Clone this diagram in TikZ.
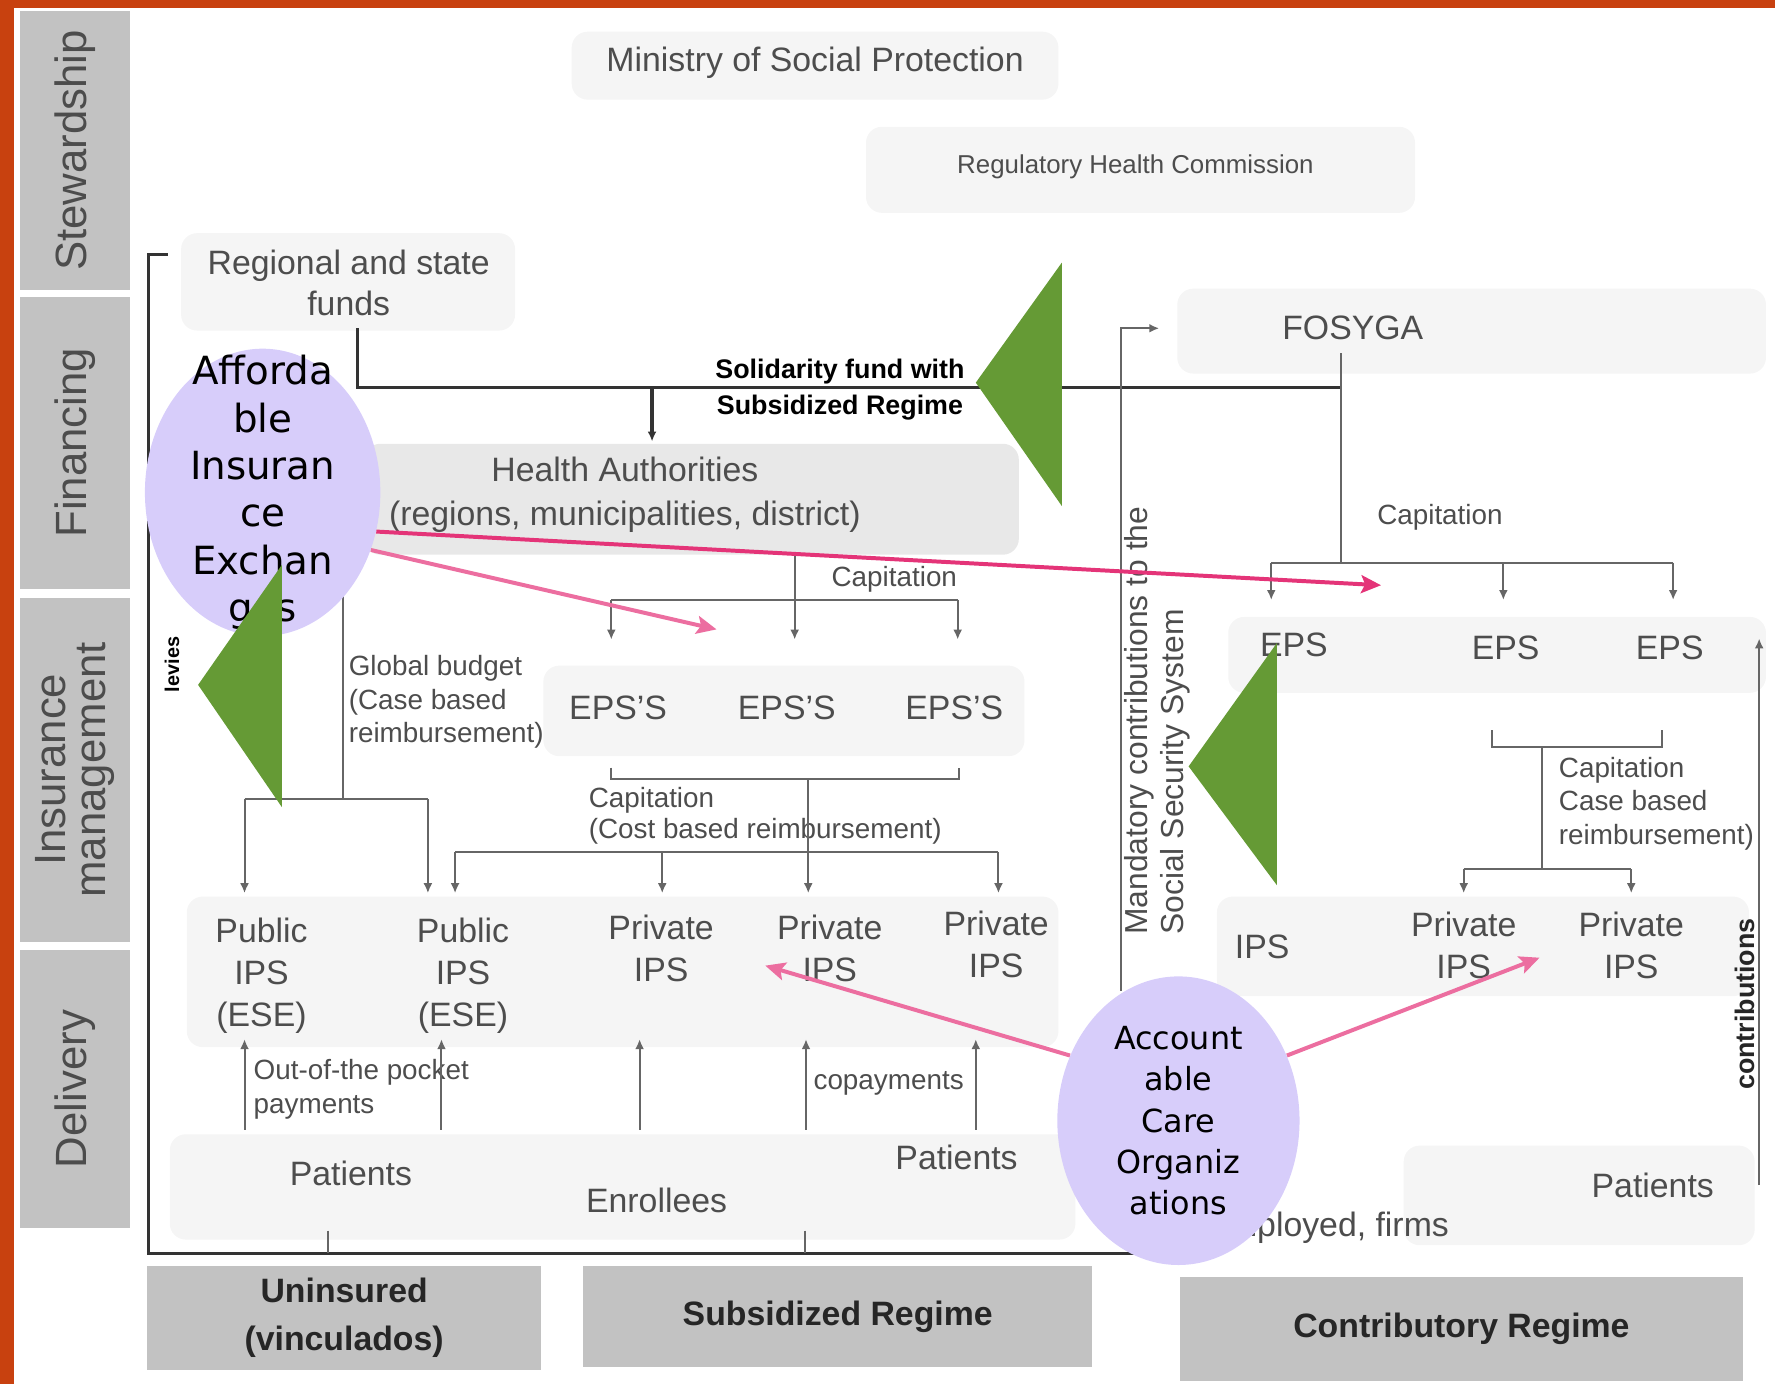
\documentclass[tikz,border=0pt]{standalone}
\usepackage{fontspec}
\setmainfont{Liberation Sans}
\newfontfamily\bubblefont{DejaVu Sans}
\usetikzlibrary{positioning,calc,arrows.meta,shapes.geometric}

\definecolor{rimorange}{HTML}{C8410F}
\definecolor{leafgreen}{HTML}{659A35}
\definecolor{lilac}{HTML}{D7CDFA}
\definecolor{hotpink}{HTML}{E43478}
\definecolor{softpink}{HTML}{EC6EA0}
\definecolor{inkgray}{HTML}{4D4D4D}

\begin{document}
\begin{tikzpicture}[x=0.02cm,y=-0.02cm,
    txt/.style={text=inkgray, font=\fontsize{17}{21}\selectfont, align=center, inner sep=1pt},
    note/.style={text=inkgray, font=\fontsize{14}{17}\selectfont, align=left, inner sep=1pt},
    rowtag/.style={rectangle, fill=black!24, rotate=90, text=black!70, font=\fontsize{22}{20}\selectfont, align=center, minimum height=1.94cm, inner sep=0pt},
    regime/.style={rectangle, fill=black!24, text=black!85, font=\bfseries\fontsize{17}{24}\selectfont, align=center, inner sep=0pt},
    bubble/.style={ellipse, fill=lilac, inner sep=0pt},
    bubbletext/.style={text=black, align=center, inner sep=0pt},
    haze/.style={fill=black!4, rounded corners=8pt},
    heavy/.style={draw=black!80, line width=1.6pt},
    link/.style={draw=black!60, line width=1pt},
    flow/.style={link, -{Latex[length=5pt,width=4.5pt]}},
    hint/.style={line width=2pt, -{Stealth[length=10pt,width=9pt,inset=2pt]}}]
        \useasboundingbox (0,0) rectangle (1568,1223);

        % Haze behind the old chart
        \fill[haze] (505,28) rectangle (935,88);
        \fill[haze] (765,112) rectangle (1250,188);
        \fill[haze] (160,206) rectangle (455,292);
        \fill[haze] (1040,255) rectangle (1560,330);
        \fill[haze, fill=black!9] (322,392) rectangle (900,490);
        \fill[haze] (480,588) rectangle (905,668);
        \fill[haze] (1085,545) rectangle (1560,612);
        \fill[haze] (165,792) rectangle (935,925);
        \fill[haze] (1075,792) rectangle (1545,880);
        \fill[haze] (150,1002) rectangle (950,1095);
        \fill[haze] (1240,1012) rectangle (1550,1100);

        % Rim
        \fill[rimorange] (0,0) rectangle (12,1223);
        \fill[rimorange] (0,0) rectangle (1568,7);

        % Row tags
        \node[rowtag, minimum width=4.92cm] (stew) at (66,133) {Stewardship};
        \node[rowtag, minimum width=5.16cm] (fin) at (66,391) {Financing};
        \node[rowtag, minimum width=6.08cm] (insm) at (66,680) {Insurance\\management};
        \node[rowtag, minimum width=4.90cm] (deliv) at (66,962) {Delivery};

        % Regimes
        \node[regime, minimum width=6.96cm, minimum height=1.84cm] (uninsured) at (304,1164) {Uninsured\\(vinculados)};
        \node[regime, minimum width=9cm, minimum height=1.8cm] (subsidized) at (740,1163) {Subsidized Regime};
        \node[regime, minimum width=9.94cm, minimum height=1.84cm] (contributory) at (1291,1174) {Contributory Regime};

        % Nodes
        \node[txt] (ministry) at (720,55) {Ministry of Social Protection};
        \node[txt, font=\fontsize{13}{15}\selectfont] (regulator) at (1003,147) {Regulatory Health Commission};
        \node[txt] (funds) at (308,250) {Regional and state\\funds};
        \node[txt] (fosyga) at (1195,290) {FOSYGA};
        \node[txt, text=black, font=\bfseries\fontsize{13.5}{18}\selectfont] (solidarity) at (742,344) {Solidarity fund with\\Subsidized Regime};
        \node[txt, font=\fontsize{17}{22}\selectfont] (authority) at (552,437) {Health Authorities\\(regions, municipalities, district)};
        \node[note] (capmid) at (790,512) {Capitation};
        \node[txt] (eps1) at (546,625) {EPS'S};
        \node[txt] (eps2) at (695,625) {EPS'S};
        \node[txt] (eps3) at (843,625) {EPS'S};
        \node[note, anchor=west] (budget) at (306,620) {Global budget\\(Case based\\reimbursement)};
        \node[note, anchor=west, font=\fontsize{14}{15.5}\selectfont] (capcost) at (518,721) {Capitation\\(Cost based reimbursement)};
        \node[txt] (pub1) at (231,862) {Public\\IPS\\(ESE)};
        \node[txt] (pub2) at (409,862) {Public\\IPS\\(ESE)};
        \node[txt] (priv1) at (584,838) {Private\\IPS};
        \node[txt] (priv2) at (733,838) {Private\\IPS};
        \node[txt] (priv3) at (880,834) {Private\\IPS};
        \node[note, anchor=west] (oop) at (222,962) {Out-of-the pocket\\payments};
        \node[note] (copay) at (785,957) {copayments};
        \node[txt] (patpub) at (310,1037) {Patients};
        \node[txt] (enrol) at (580,1060) {Enrollees};
        \node[txt] (patsub) at (845,1022) {Patients};
        \node[note] (capright) at (1272,457) {Capitation};
        \node[txt] (epsc1) at (1143,570) {EPS};
        \node[txt] (epsc2) at (1330,572) {EPS};
        \node[txt] (epsc3) at (1475,572) {EPS};
        \node[note, anchor=west] (capcase) at (1375,710) {Capitation\\Case based\\reimbursement)};
        \node[txt] (ipsc) at (1115,836) {IPS};
        \node[txt] (privc1) at (1293,835) {Private\\IPS};
        \node[txt] (privc2) at (1441,835) {Private\\IPS};
        \node[txt] (patcon) at (1460,1047) {Patients};
        \node[txt, anchor=east] (firms) at (1282,1085) {Employed, firms};
        \node[rotate=90, text=black, font=\bfseries\fontsize{10}{12}\selectfont, inner sep=0pt] (levies) at (152,587) {levies};
        \node[note, rotate=90, anchor=north west, inner sep=0pt, font=\fontsize{16}{18}\selectfont] (mandatory) at (993,826) {Mandatory contributions to the\\Social Security System};
        \node[rotate=90, text=black!85, font=\bfseries\fontsize{13.5}{15}\selectfont, inner sep=0pt] (contrib) at (1541,887) {contributions};

        % Frame
        \coordinate (framecap) at (148,225);
        \coordinate (framecorner) at (131,225);
        \coordinate (framefoot) at (131,1107);
        \coordinate (frameend) at (1045,1107);
        \draw[heavy] (framecap) -- (framecorner) -- (framefoot) -- (frameend);
        \coordinate (unintick) at (290,1087);
        \coordinate (subtick) at (711,1087);
        \draw[link] (unintick) -- (unintick |- framefoot);
        \draw[link] (subtick) -- (subtick |- framefoot);

        % Financing
        \coordinate (fundsfoot) at (316,290);
        \coordinate (fosjoin) at (1185,342);
        \coordinate (fosfoot) at (1185,312);
        \coordinate (fosbar) at (1185,497);
        \coordinate (hadrop) at (576,342);
        \coordinate (hain) at (576,390);
        \draw[heavy] (fundsfoot) |- (fosjoin);
        \draw[link] (fosfoot) -- (fosbar);
        \draw[flow, heavy] (hadrop) -- (hain);

        % Health authorities to EPS'S
        \coordinate (hastem) at (702,490);
        \coordinate (epsbarl) at (540,530);
        \coordinate (epsbarr) at (846,530);
        \coordinate (epsin) at (0,565);
        \draw[flow] (hastem) -- (hastem |- epsin);
        \draw[link] (epsbarl) -- (epsbarr);
        \draw[flow] (epsbarl) -- (epsbarl |- epsin);
        \draw[flow] (epsbarr) -- (epsbarr |- epsin);

        % Health authorities to public IPS
        \coordinate (pubstem) at (303,485);
        \coordinate (pubbar) at (303,706);
        \coordinate (pubbarl) at (216,706);
        \coordinate (pubbarr) at (378,706);
        \coordinate (ipsin) at (0,789);
        \draw[link] (pubstem) -- (pubbar);
        \draw[link] (pubbarl) -- (pubbarr);
        \draw[flow] (pubbarl) -- (pubbarl |- ipsin);
        \draw[flow] (pubbarr) -- (pubbarr |- ipsin);

        % EPS'S to private IPS
        \coordinate (epsbrl) at (540,678);
        \coordinate (epsbrmid) at (714,688);
        \coordinate (epsbrr) at (847,678);
        \coordinate (privbarl) at (402,753);
        \coordinate (privtap) at (585,753);
        \coordinate (privbarr) at (882,753);
        \draw[link] (epsbrl) |- (epsbrmid) -| (epsbrr);
        \draw[flow] (epsbrmid) -- (epsbrmid |- ipsin);
        \draw[link] (privbarl) -- (privbarr);
        \draw[flow] (privbarl) -- (privbarl |- ipsin);
        \draw[flow] (privtap) -- (privtap |- ipsin);
        \draw[flow] (privbarr) -- (privbarr |- ipsin);

        % Patients paying providers
        \coordinate (ipsout) at (0,918);
        \coordinate (oopl) at (216,998);
        \coordinate (oopr) at (390,998);
        \coordinate (payl) at (565,998);
        \coordinate (paym) at (712,998);
        \coordinate (payr) at (862,998);
        \draw[flow] (oopl) -- (oopl |- ipsout);
        \draw[flow] (oopr) -- (oopr |- ipsout);
        \draw[flow] (payl) -- (payl |- ipsout);
        \draw[flow] (paym) -- (paym |- ipsout);
        \draw[flow] (payr) -- (payr |- ipsout);

        % Contributory side
        \coordinate (cepsl) at (1123,497);
        \coordinate (cepsm) at (1328,497);
        \coordinate (cepsr) at (1478,497);
        \coordinate (cepsin) at (0,530);
        \draw[link] (cepsl) -- (cepsr);
        \draw[flow] (cepsl) -- (cepsl |- cepsin);
        \draw[flow] (cepsm) -- (cepsm |- cepsin);
        \draw[flow] (cepsr) -- (cepsr |- cepsin);
        \coordinate (cbrl) at (1318,645);
        \coordinate (cbrmid) at (1362,660);
        \coordinate (cbrr) at (1468,645);
        \coordinate (cipsbar) at (1362,768);
        \coordinate (cipsl) at (1293,768);
        \coordinate (cipsr) at (1441,768);
        \draw[link] (cbrl) |- (cbrmid) -| (cbrr);
        \draw[link] (cbrmid) -- (cipsbar);
        \draw[link] (cipsl) -- (cipsr);
        \draw[flow] (cipsl) -- (cipsl |- ipsin);
        \draw[flow] (cipsr) -- (cipsr |- ipsin);
        \coordinate (mandfoot) at (990,875);
        \coordinate (fosin) at (1024,290);
        \draw[flow] (mandfoot) |- (fosin);
        \coordinate (contfoot) at (1554,1047);
        \coordinate (conttop) at (1554,564);
        \draw[flow] (contfoot) -- (conttop);

        % Bubbles
        \node[bubble, minimum width=4.16cm, minimum height=5.08cm] (aie) at (232,435) {};
        \node[bubbletext, font=\bubblefont\fontsize{19.5}{23.8}\selectfont] (aietext) at (aie.center) {Afforda\\ble\\Insuran\\ce\\Exchan\\ges};
        \node[bubble, minimum width=4.28cm, minimum height=5.1cm] (aco) at (1041,990) {};
        \node[bubbletext, font=\bubblefont\fontsize{16}{20.7}\selectfont] (acotext) at (aco.center) {Account\\able\\Care\\Organiz\\ations};

        % Pointers
        \coordinate (epsmark) at (1220,517);
        \coordinate (epsmidmark) at (633,556);
        \coordinate (privmark) at (676,853);
        \coordinate (cprivmark) at (1360,846);
        \draw[hint, draw=hotpink] (aie.-19) -- (epsmark);
        \draw[hint, draw=softpink] (aie.-28) -- (epsmidmark);
        \draw[hint, draw=softpink] (aco.149) -- (privmark);
        \draw[hint, draw=softpink] (aco.31) -- (cprivmark);

        % Green wedges
        \fill[leafgreen] (862,338) -- (938,232) -- (938,447) -- cycle;
        \fill[leafgreen] (175,605) -- (249,499) -- (249,713) -- cycle;
        \fill[leafgreen] (1050,677) -- (1128,568) -- (1128,782) -- cycle;
\end{tikzpicture}
\end{document}
